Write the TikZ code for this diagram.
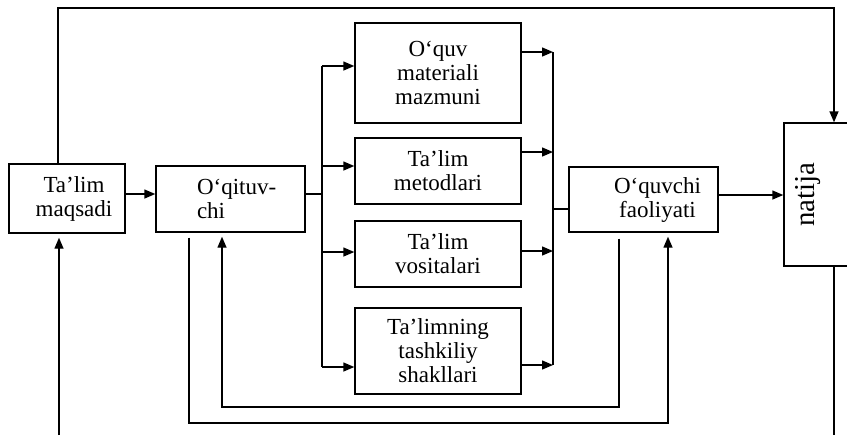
\documentclass[tikz,border=0pt]{standalone}
\usepackage{fontspec}
\setmainfont{Liberation Serif}
\usetikzlibrary{arrows.meta}
\begin{document}
\begin{tikzpicture}[x=0.5pt,y=-0.5pt,
  box/.style={draw, line width=0.7pt, inner sep=0pt, align=center, font=\fontsize{11.5}{12}\selectfont},
  ln/.style={line width=0.7pt},
  arr/.style={line width=0.7pt, -{Triangle[length=5.5pt,width=4.5pt]}}]
\clip (0,0) rectangle (847,435);
\useasboundingbox (0,0) rectangle (847,435);
% nodes
\node[box, minimum width=58pt, minimum height=34.5pt, text width=58pt] (tm) at (67,198.5) {\hspace*{7pt}Ta’lim\\\hspace*{7pt}maqsadi};
\node[box, minimum width=74.5pt, minimum height=33pt, text width=74.5pt, align=left] (oq) at (230.5,199) {\hspace*{20.5pt}O‘qituv-\\\hspace*{20.5pt}chi};
\node[box, minimum width=83pt, minimum height=50pt] (b1) at (438,73) {O‘quv\\materiali\\mazmuni};
\node[box, minimum width=83pt, minimum height=33pt] (b2) at (438,171) {Ta’lim\\metodlari};
\node[box, minimum width=83pt, minimum height=33pt] (b3) at (438,254) {Ta’lim\\vositalari};
\node[box, minimum width=83pt, minimum height=43pt] (b4) at (438,351) {Ta’limning\\tashkiliy\\shakllari};
\node[box, minimum width=74.5pt, minimum height=32.5pt, text width=74.5pt] (oqv) at (643.5,199.5) {\hspace*{14pt}O‘quvchi\\\hspace*{14pt}faoliyati};
\node[box, minimum width=48pt, minimum height=71.5pt] (nat) at (832,194.5) {};
\node[font=\fontsize{14.4}{15}\selectfont, rotate=90, inner sep=0pt] (natt) at (808,195) {natija};
% coordinates
\coordinate (bl) at (322,194);
\coordinate (br) at (553,209);
\coordinate (top1) at (58,8);
\coordinate (top2) at (834,8);
\coordinate (bot1) at (59,435);
\coordinate (bot2) at (834,435);
% connectors
\draw[arr] (tm.east |- 0,194) -- (oq.west |- 0,194);
\draw[ln] (oq.east |- bl) -- (bl);
\draw[ln] (bl |- 0,66) -- (bl |- 0,367);
\draw[arr] (bl |- 0,66) -- (b1.west |- 0,66);
\draw[arr] (bl |- 0,166) -- (b2.west |- 0,166);
\draw[arr] (bl |- 0,252) -- (b3.west |- 0,252);
\draw[arr] (bl |- 0,367) -- (b4.west |- 0,367);
\draw[ln] (br |- 0,52) -- (br |- 0,365);
\draw[arr] (b1.east |- 0,52) -- (br |- 0,52);
\draw[arr] (b2.east |- 0,152) -- (br |- 0,152);
\draw[arr] (b3.east |- 0,251) -- (br |- 0,251);
\draw[arr] (b4.east |- 0,365) -- (br |- 0,365);
\draw[ln] (br) -- (oqv.west |- br);
\draw[arr] (oqv.east |- 0,195) -- (nat.west |- 0,195);
\draw[arr] (tm.north -| top1) -- (top1) -- (top2) -- (nat.north -| top2);
\draw[ln] (nat.south -| bot2) -- (bot2);
\draw[arr, shorten >=2pt] (bot1) -- (tm.south -| bot1);
\draw[arr, shorten >=2pt] ([yshift=-2.5pt]oq.south -| 189,0) -- (189,423) -- (668,423) -- (oqv.south -| 668,0);
\draw[arr, shorten >=2pt] ([yshift=-3pt]oqv.south -| 619,0) -- (619,407) -- (222,407) -- (oq.south -| 222,0);
\end{tikzpicture}
\end{document}
